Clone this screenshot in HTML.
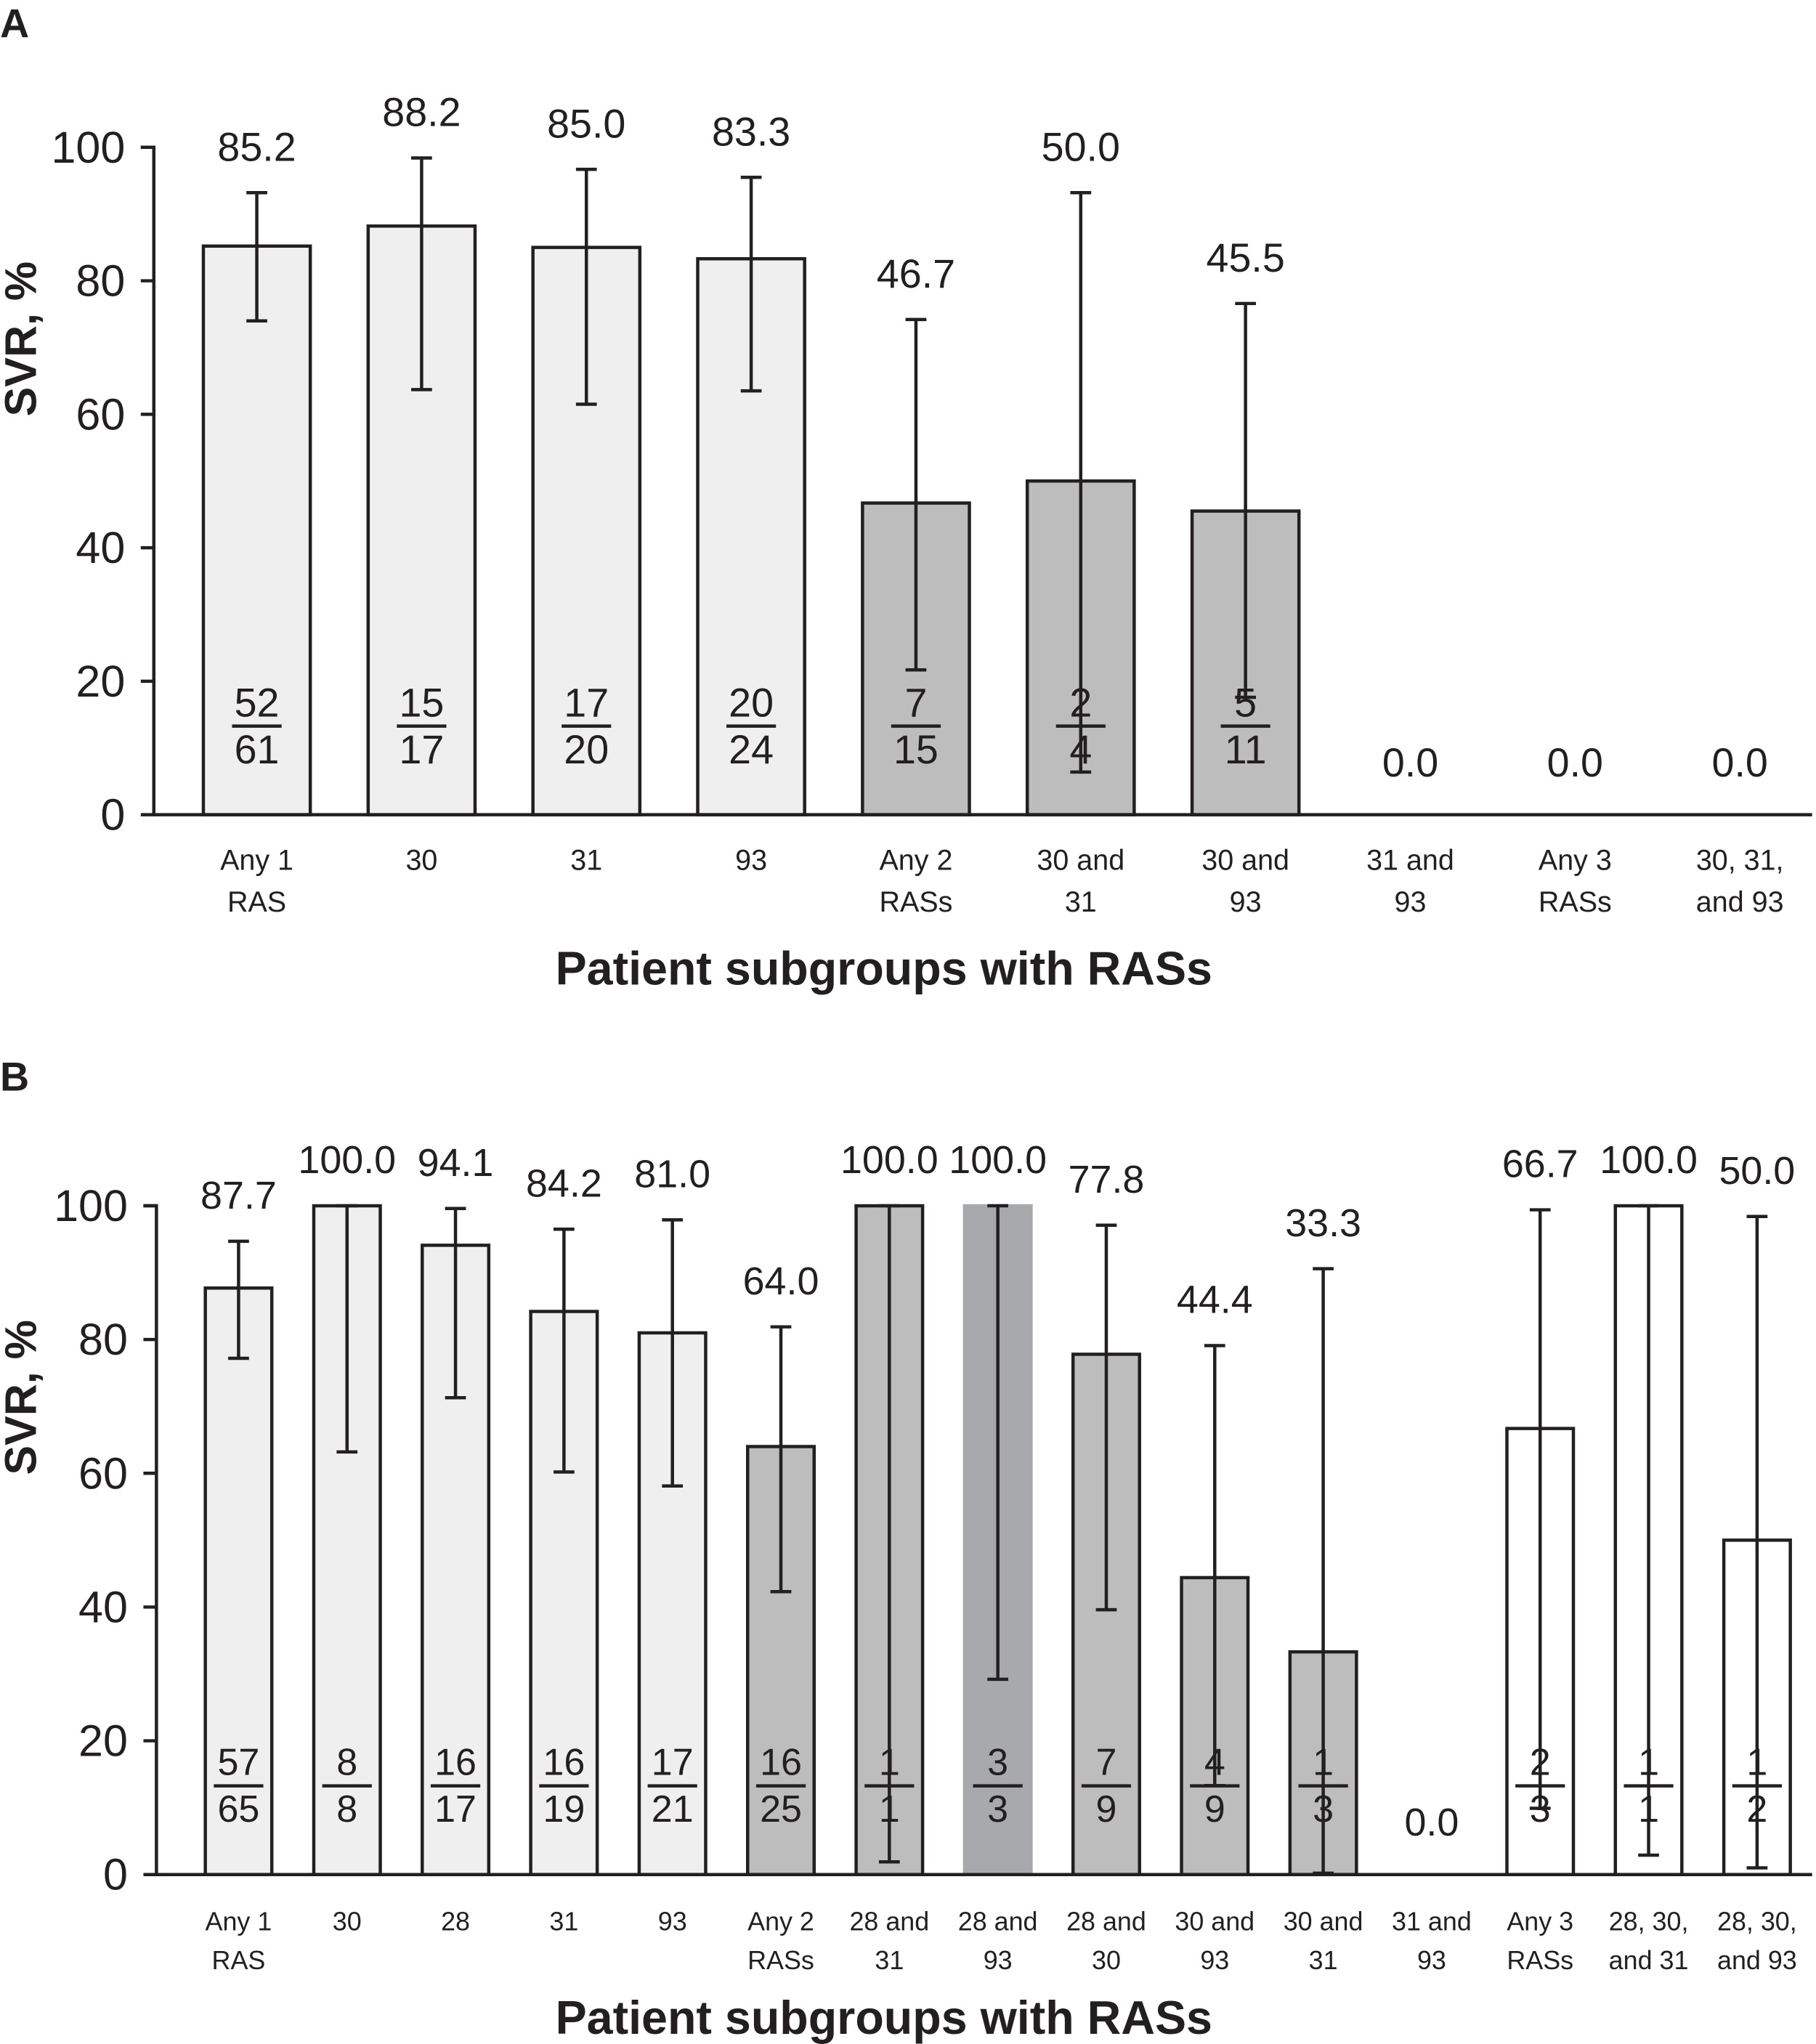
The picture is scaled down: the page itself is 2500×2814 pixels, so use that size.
<!DOCTYPE html>
<html><head><meta charset="utf-8"><style>
html,body{margin:0;padding:0;background:#fff}
svg{display:block;font-family:"Liberation Sans",Arial,sans-serif}
</style></head><body>
<svg id="chart" width="2500" height="2814" viewBox="0 0 1393 1568" preserveAspectRatio="none" xmlns="http://www.w3.org/2000/svg"></svg>
<script>
const catsA = [["Any 1","RAS"],["30",""],["31",""],["93",""],["Any 2","RASs"],["30 and","31"],["30 and","93"],["31 and","93"],["Any 3","RASs"],["30, 31,","and 93"]];
const valsA = [85.2,88.2,85.0,83.3,46.7,50.0,45.5,0,0,0];
const errLoA = [74.0,63.7,61.5,63.5,21.7,6.4,17.6,null,null,null];
const errHiA = [93.2,98.4,96.7,95.5,74.2,93.2,76.6,null,null,null];
const numA = ["52","15","17","20","7","2","5","","",""];
const denA = ["61","17","20","24","15","4","11","","",""];
const fillA = ["#efefef","#efefef","#efefef","#efefef","#bdbdbd","#bdbdbd","#bdbdbd","#fff","#fff","#fff"];

const catsB = [["Any 1","RAS"],["30",""],["28",""],["31",""],["93",""],["Any 2","RASs"],["28 and","31"],["28 and","93"],["28 and","30"],["30 and","93"],["30 and","31"],["31 and","93"],["Any 3","RASs"],["28, 30,","and 31"],["28, 30,","and 93"]];
const valsB = [87.7,100,94.1,84.2,81.0,64.0,100,100,77.8,44.4,33.3,0,66.7,100,50.0];
const errLoB = [77.2,63.2,71.3,60.2,58.1,42.3,1.9,29.2,39.6,13.3,0.2,null,9.9,2.9,1.0];
const errHiB = [94.7,100,99.6,96.5,97.9,81.9,100,100,97.1,79.1,90.6,null,99.4,100,98.4];
const numB = ["57","8","16","16","17","16","1","3","7","4","1","","2","1","1"];
const denB = ["65","8","17","19","21","25","1","3","9","9","3","","3","1","2"];
const fillB = ["#efefef","#efefef","#efefef","#efefef","#efefef","#bdbdbd","#bdbdbd","#a7a9ac","#bdbdbd","#bdbdbd","#bdbdbd","#fff","#fff","#fff","#fff"];
const yTicks = [0,20,40,60,80,100];

const svg = document.getElementById('chart');
const NS = 'http://www.w3.org/2000/svg';
const INK = '#231f20';
function mk(tag, attrs, parent){const e=document.createElementNS(NS,tag);for(const k in attrs)e.setAttribute(k,attrs[k]);(parent||svg).appendChild(e);return e;}
function txt(s,x,y,size,weight,parent,anchor){const t=mk('text',{x:x,y:y,'font-size':size,'font-weight':weight||'normal','text-anchor':anchor||'middle','dominant-baseline':'central',fill:INK},parent);t.textContent=s;return t;}

function panel(p){
  const g = mk('g',{});
  
  
  const y = v => p.y0 - (p.y0 - p.y100) * v / 100;
  const x = i => p.x1 + p.step * i;
  const letter = txt(p.letter, 0, p.letterY, 31, 'bold', g, 'start');
  
  
  const yt = txt('SVR, %', 0, 0, 34, 'bold', g);
  yt.setAttribute('transform', `translate(16,${p.y100+147}) rotate(-90)`);
  
  
  for (let i = 0; i < p.vals.length; i++) {
    const cx = x(i);
    if (p.vals[i] > 0) {
      const r = mk('rect',{x:cx-p.bw/2,y:y(p.vals[i]),width:p.bw,height:y(0)-y(p.vals[i]),fill:p.fill[i],stroke:p.fill[i]==='#a7a9ac'?'#a7a9ac':INK,'stroke-width':2.5},g);
      
      
    }
    if (p.lo[i] !== null) {
      const eb = mk('path',{d:`M${cx},${y(p.lo[i])}V${y(p.hi[i])}M${cx-8},${y(p.lo[i])}h16M${cx-8},${y(p.hi[i])}h16`,stroke:INK,'stroke-width':2.5,fill:'none'},g);
      
      
    }
    const top = p.hi[i] !== null ? y(p.hi[i]) : y(0);
    const vl = txt(p.vals[i].toFixed(1), cx, top - (p.hi[i] !== null ? 35 : 40), p.vsize, 'normal', g);
    
    
    if (p.num[i]) {
      const n = txt(p.num[i], cx, p.fy - 18, p.fsize, 'normal', g);
      
      
      const d = txt(p.den[i], cx, p.fy + 18, p.fsize, 'normal', g);
      
      
      const fl = mk('line',{x1:cx-19,x2:cx+19,y1:p.fy,y2:p.fy,stroke:INK,'stroke-width':2.5},g);
      
      
    }
    const c1 = txt(p.cats[i][0], cx, p.ly1, p.lsize, 'normal', g);
    
    
    if (p.cats[i][1]) {
      const c2 = txt(p.cats[i][1], cx, p.ly1 + p.lgap, p.lsize, 'normal', g);
      
      
    }
  }
  const ax = mk('path',{d:`M${p.ax-10},${y(100)}H${p.ax}V${y(0)}H1390`,stroke:INK,'stroke-width':2.5,fill:'none'},g);
  
  
  for (const t of yTicks) {
    const tk = mk('line',{x1:p.ax-10,x2:p.ax,y1:y(t),y2:y(t),stroke:INK,'stroke-width':2.5},g);
    
    
    const tl = txt(String(t), p.ax-22, y(t), 34, 'normal', g, 'end');
    
    
  }
  const xt = txt('Patient subgroups with RASs', 678, p.ty, 36, 'bold', g);
  
  
}

panel({id:'panel-a',letter:'A',letterY:18,cats:catsA,vals:valsA,lo:errLoA,hi:errHiA,num:numA,den:denA,fill:fillA,
  y0:625,y100:113,ax:118,x1:197,step:126.4,bw:82,vsize:31,fy:557,fsize:31,ly1:660,lgap:32,lsize:22,ty:743});
panel({id:'panel-b',letter:'B',letterY:826,cats:catsB,vals:valsB,lo:errLoB,hi:errHiB,num:numB,den:denB,fill:fillB,
  y0:1438,y100:925,ax:120,x1:183,step:83.2,bw:51,vsize:30,fy:1370,fsize:29,ly1:1474,lgap:30,lsize:20,ty:1548});
</script>
</body></html>
